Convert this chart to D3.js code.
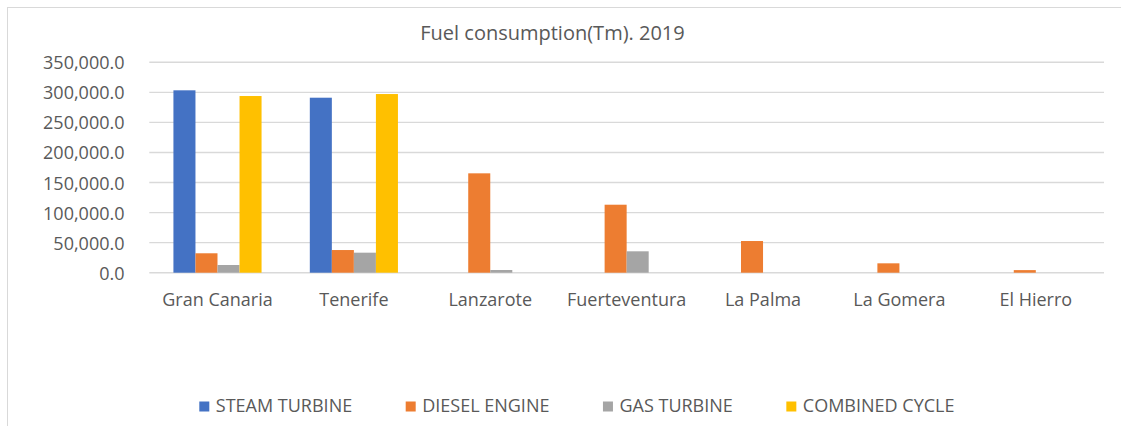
<!DOCTYPE html>
<html>
<head>
<meta charset="utf-8">
<script src="https://cdn.jsdelivr.net/npm/d3@7"></script>
<style>
  body { margin: 0; background: #fff; }
  text { font-family: "Open Sans", sans-serif; fill: #595959; }
</style>
</head>
<body>
<svg id="chart"></svg>
<script>
const islands = ["Gran Canaria", "Tenerife", "Lanzarote", "Fuerteventura", "La Palma", "La Gomera", "El Hierro"];
const seriesNames = ["STEAM TURBINE", "DIESEL ENGINE", "GAS TURBINE", "COMBINED CYCLE"];
const steamTurbine = [303400, 291100, 0, 0, 0, 0, 0];
const dieselEngine = [32300, 37700, 165300, 113100, 52700, 15600, 4300];
const gasTurbine = [12800, 33300, 4500, 35600, 0, 0, 0];
const combinedCycle = [293900, 297200, 0, 0, 0, 0, 0];
const yTicks = [0, 50000, 100000, 150000, 200000, 250000, 300000, 350000];
const colors = ["#4472C4", "#ED7D31", "#A5A5A5", "#FFC000"];

const width = 1121, height = 426;
const plot = {left: 149.3, right: 1104, top: 62.3, bottom: 272.7};

const svg = d3.select("#chart")
    .attr("width", width)
    .attr("height", height);

// chart area border (only left and top visible in the crop)
svg.append("rect")
    .attr("x", 7.5).attr("y", 7.5)
    .attr("width", 1200).attr("height", 600)
    .attr("fill", "none")
    .attr("stroke", "#d9d9d9")
    .attr("stroke-width", 1);

const rows = islands.map((name, i) => ({
    name,
    values: [steamTurbine[i], dieselEngine[i], gasTurbine[i], combinedCycle[i]]
}));

const x0 = d3.scaleBand()
    .domain(islands)
    .range([plot.left, plot.right])
    .paddingInner(0).paddingOuter(0);

const gapRatio = 2.19; // gap between clusters, relative to one bar
const barW = x0.bandwidth() / (seriesNames.length + gapRatio);
const x1 = d3.scaleBand()
    .domain(d3.range(seriesNames.length))
    .range([0, barW * seriesNames.length]);
const groupOffset = (x0.bandwidth() - barW * seriesNames.length) / 2;

const y = d3.scaleLinear()
    .domain([0, 350000])
    .range([plot.bottom, plot.top]);

// gridlines
svg.append("g")
    .selectAll("line")
    .data(yTicks)
    .join("line")
    .attr("x1", plot.left).attr("x2", plot.right)
    .attr("y1", d => y(d)).attr("y2", d => y(d))
    .attr("stroke", "#d9d9d9")
    .attr("stroke-width", 1.4);

// y axis labels
const yAxis = d3.axisLeft(y)
    .tickValues(yTicks)
    .tickFormat(d3.format(",.1f"))
    .tickSize(0)
    .tickPadding(0);
svg.append("g")
    .attr("transform", `translate(124.5,0)`)
    .call(yAxis)
    .call(g => g.select(".domain").remove())
    .selectAll("text")
    .attr("font-size", 18)
    .attr("font-family", null)
    .attr("fill", "#595959")
    .attr("dy", "0.36em");

// bars
svg.append("g")
    .selectAll("g")
    .data(rows)
    .join("g")
    .attr("transform", d => `translate(${x0(d.name) + groupOffset},0)`)
    .selectAll("rect")
    .data(d => d.values.map((v, k) => ({k, v})))
    .join("rect")
    .attr("x", d => x1(d.k))
    .attr("width", x1.bandwidth())
    .attr("y", d => y(d.v))
    .attr("height", d => y(0) - y(d.v))
    .attr("fill", d => colors[d.k]);

// category labels
const xAxis = d3.axisBottom(x0).tickSize(0).tickPadding(0);
svg.append("g")
    .attr("transform", `translate(0,${plot.bottom})`)
    .call(xAxis)
    .call(g => g.select(".domain").remove())
    .selectAll("text")
    .attr("font-size", 18)
    .attr("font-family", null)
    .attr("fill", "#595959")
    .attr("dy", "1.83em");

// title
svg.append("text")
    .attr("x", 552.5).attr("y", 40)
    .attr("text-anchor", "middle")
    .attr("font-size", 20)
    .text("Fuel consumption(Tm). 2019");

// legend
const legend = svg.append("g").attr("transform", "translate(199.3,0)");
let lx = 0;
seriesNames.forEach((name, k) => {
    legend.append("rect")
        .attr("x", lx).attr("y", 401.5)
        .attr("width", 10).attr("height", 10)
        .attr("fill", colors[k]);
    const t = legend.append("text")
        .attr("x", lx + 16.5).attr("y", 412)
        .attr("font-size", 18)
        .text(name);
    lx += 16.5 + t.node().getComputedTextLength() + 53.5;
});
</script>
</body>
</html>
